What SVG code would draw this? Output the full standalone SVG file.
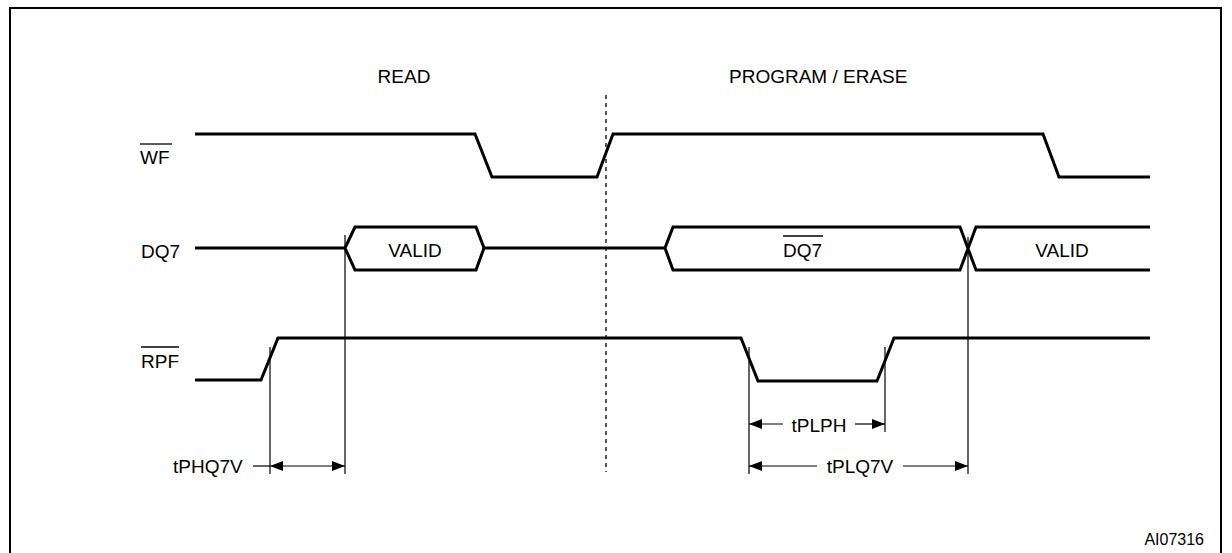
<svg xmlns="http://www.w3.org/2000/svg" width="1232" height="553" viewBox="0 0 1232 553">
<style>
text{font-family:"Liberation Sans",Arial,sans-serif;font-size:19px;fill:#000}
.sig{fill:none;stroke:#000;stroke-width:3;stroke-linejoin:miter}
.thin{fill:none;stroke:#000;stroke-width:1.2}
.ov{stroke:#000;stroke-width:1.3}
.dash{stroke:#000;stroke-width:1.3;stroke-dasharray:4 4}
.mid{text-anchor:middle}
</style>
<defs>
<marker id="ah" viewBox="0 0 13 10" refX="13" refY="5" markerWidth="13" markerHeight="10" orient="auto-start-reverse" markerUnits="userSpaceOnUse">
<path d="M0,0 L13,5 L0,10 z" fill="#000"/>
</marker>
</defs>
<rect x="0" y="0" width="1232" height="553" fill="#fff"/>
<rect id="frame" x="10" y="8" width="1211" height="560" fill="none" stroke="#000" stroke-width="2"/>
<g id="phase-labels">
<text x="404" y="83" class="mid">READ</text>
<text x="729" y="83">PROGRAM / ERASE</text>
<line class="dash" x1="606" y1="95" x2="606" y2="472"/>
</g>
<g id="sig-wf">
<text x="140" y="164">WF</text>
<line class="ov" x1="140" y1="144" x2="172" y2="144"/>
<polyline class="sig" points="195,134 475,134 492,177 597,177 613,134 1043,134 1059,177 1150,177"/>
</g>
<g id="sig-dq7">
<text x="141" y="258">DQ7</text>
<polyline class="sig" points="195,248 345,248"/>
<polygon class="sig" points="345,248 355,227 476,227 484,248 476,270 355,270"/>
<text x="415" y="257" class="mid">VALID</text>
<polyline class="sig" points="484,248 665,248"/>
<polyline class="sig" points="1150,227 976,227 960,270 673,270 665,248 673,227 960,227 976,270 1150,270"/>
<text x="783" y="257">DQ7</text>
<line class="ov" x1="783" y1="236" x2="823" y2="236"/>
<text x="1062" y="257" class="mid">VALID</text>
</g>
<g id="sig-rpf">
<text x="141" y="368">RPF</text>
<line class="ov" x1="141" y1="347" x2="179" y2="347"/>
<polyline class="sig" points="195,380 261,380 278,338 741,338 758,381 877,381 894,338 1150,338"/>
</g>
<g id="connectors">
<line class="thin" x1="345" y1="235" x2="345" y2="474"/>
<line class="thin" x1="968" y1="237" x2="968" y2="474"/>
<line class="thin" x1="270" y1="347" x2="270" y2="474"/>
<line class="thin" x1="749" y1="347" x2="749" y2="474"/>
<line class="thin" x1="885" y1="347" x2="885" y2="432"/>
<text x="173" y="473">tPHQ7V</text>
<line class="thin" x1="253" y1="466" x2="270" y2="466"/>
<line class="thin" x1="270" y1="466" x2="345" y2="466" marker-start="url(#ah)" marker-end="url(#ah)"/>
<line class="thin" x1="783" y1="424" x2="749" y2="424" marker-end="url(#ah)"/>
<text x="819" y="432" class="mid">tPLPH</text>
<line class="thin" x1="855" y1="424" x2="885" y2="424" marker-end="url(#ah)"/>
<line class="thin" x1="817" y1="466" x2="749" y2="466" marker-end="url(#ah)"/>
<text x="860" y="473" class="mid">tPLQ7V</text>
<line class="thin" x1="903" y1="466" x2="968" y2="466" marker-end="url(#ah)"/>
</g>
<text x="1204" y="545" style="font-size:16px;text-anchor:end">AI07316</text>
</svg>
